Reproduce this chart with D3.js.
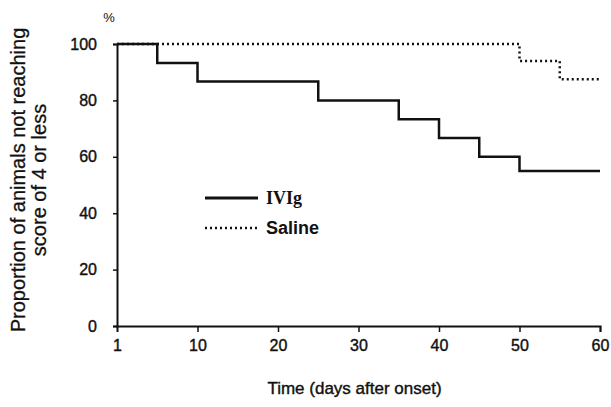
<!DOCTYPE html>
<html>
<head>
<meta charset="utf-8">
<script src="https://cdn.jsdelivr.net/npm/d3@7"></script>
<style>
  body { margin: 0; background: #fff; }
  svg text { font-family: "Liberation Sans", Arial, sans-serif; fill: #111; }
</style>
</head>
<body>
<div class="visContainer"></div>
<script>
// Data: step survival curves, day vs percent.
const ivigDays = [0, 5, 10, 25, 35, 40, 45, 50, 60];
const ivigValues = [100, 93.3, 86.7, 80, 73.3, 66.7, 60, 55, 55];
const salineDays = [0, 50, 55, 60];
const salineValues = [100, 94, 87.5, 87.5];
const xTicks = [0, 10, 20, 30, 40, 50, 60];
const xTickLabels = ['1', '10', '20', '30', '40', '50', '60'];
const yTicks = [0, 20, 40, 60, 80, 100];
const legendNames = ['IVIg', 'Saline'];

// SVG constants.
const width = 611;
const height = 407;
const margin = { top: 44, right: 11, bottom: 81, left: 117 };

const svg = d3.select('.visContainer')
              .append('svg')
              .attr('width', width)
              .attr('height', height);

const x = d3.scaleLinear()
            .domain([0, 60])
            .range([margin.left, width - margin.right]);
const y = d3.scaleLinear()
            .domain([0, 100])
            .range([height - margin.bottom, margin.top]);

// Axes.
const xAxis = d3.axisBottom(x)
                .tickValues(xTicks)
                .tickFormat((d, i) => xTickLabels[i])
                .tickSize(6)
                .tickPadding(8);
const yAxis = d3.axisLeft(y)
                .tickValues(yTicks)
                .tickSize(4)
                .tickPadding(16);

const gx = svg.append('g')
              .attr('transform', 'translate(0,' + y(0) + ')')
              .call(xAxis);
const gy = svg.append('g')
              .attr('transform', 'translate(' + x(0) + ',0)')
              .call(yAxis);

[gx, gy].forEach((g) => {
    g.select('.domain').attr('stroke', '#111').attr('stroke-width', 2);
    g.selectAll('.tick line').attr('stroke', '#111').attr('stroke-width', 1.5);
    g.selectAll('.tick text')
     .attr('font-size', 16)
     .attr('fill', '#111')
     .attr('stroke', '#111')
     .attr('stroke-width', 0.4)
     .style('font-family', '"Liberation Sans", Arial, sans-serif');
});
// no tick mark under the "1" label
gx.select('.tick line').remove();

// Curves.
const line = d3.line()
               .x((d) => x(d[0]))
               .y((d) => y(d[1]))
               .curve(d3.curveStepAfter);

svg.append('path')
   .datum(ivigDays.map((d, i) => [d, ivigValues[i]]))
   .attr('fill', 'none')
   .attr('stroke', '#111')
   .attr('stroke-width', 2.5)
   .attr('d', line);

svg.append('path')
   .datum(salineDays.map((d, i) => [d, salineValues[i]]))
   .attr('fill', 'none')
   .attr('stroke', '#111')
   .attr('stroke-width', 2.5)
   .attr('stroke-dasharray', '2,3')
   .attr('d', line);

// Legend.
const legend = svg.selectAll('.legend-item')
                  .data(legendNames)
                  .enter()
                  .append('g')
                  .attr('class', 'legend-item')
                  .attr('transform', (d, i) => 'translate(205,' + (198 + i * 30) + ')');
legend.append('line')
      .attr('x1', 0)
      .attr('x2', 53)
      .attr('stroke', '#111')
      .attr('stroke-width', (d, i) => i === 0 ? 3 : 2.5)
      .attr('stroke-dasharray', (d, i) => i === 0 ? null : '2,3');
legend.append('text')
      .attr('x', 61)
      .attr('y', 6)
      .attr('font-size', 18)
      .style('font-family', (d, i) => i === 0 ? '"Liberation Serif", "Times New Roman", serif' : null)
      .attr('font-weight', 'bold')
      .text((d) => d);

// Axis titles.
svg.append('text')
   .attr('x', 109)
   .attr('y', 22)
   .attr('font-size', 13)
   .attr('text-anchor', 'middle')
   .text('%');

svg.append('text')
   .attr('x', x(30) - 4)
   .attr('y', 394)
   .attr('font-size', 17)
   .attr('stroke', '#111')
   .attr('stroke-width', 0.4)
   .attr('text-anchor', 'middle')
   .text('Time (days after onset)');

const yTitle = svg.append('text')
                  .attr('transform', 'translate(25,180) rotate(-90)')
                  .attr('font-size', 20)
                  .attr('stroke', '#111')
                  .attr('stroke-width', 0.3)
                  .attr('text-anchor', 'middle');
yTitle.append('tspan').attr('x', 0).attr('y', 0).text('Proportion of animals not reaching');
yTitle.append('tspan').attr('x', 0).attr('y', 21).text('score of 4 or less');
</script>
</body>
</html>
